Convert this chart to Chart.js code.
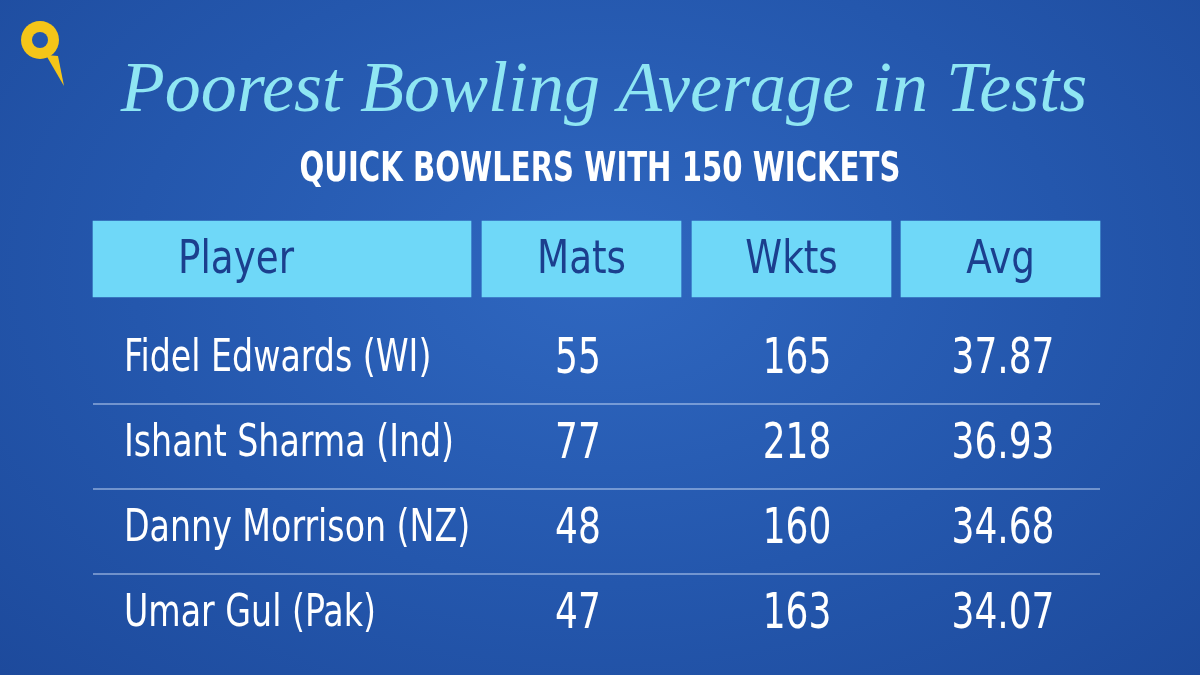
<!DOCTYPE html>
<html><head><meta charset="utf-8">
<script src="https://cdn.jsdelivr.net/npm/chart.js@4"></script>
<style>html,body{margin:0;padding:0;width:1200px;height:675px;overflow:hidden;
background:radial-gradient(ellipse at 50% 40%,#2f67c0 0%,#2457ad 55%,#1d4a9c 100%);}
#w{position:absolute;left:0;top:0;width:1200px;height:675px}</style></head><body>
<div id="w"><canvas id="c"></canvas></div>
<script>
const title = "Poorest Bowling Average in Tests";
const subtitle = "QUICK BOWLERS WITH 150 WICKETS";
const columns = ["Player","Mats","Wkts","Avg"];
const players = ["Fidel Edwards (WI)","Ishant Sharma (Ind)","Danny Morrison (NZ)","Umar Gul (Pak)"];
const mats = [55,77,48,47];
const wkts = [165,218,160,163];
const avgs = ["37.87","36.93","34.68","34.07"];

const colSpans = [[93,471],[482,681],[692,891],[901,1100]];
const headerTop = 221, headerBottom = 297;
const rowY0 = 360, rowStep = 85;
const COND = '"Liberation Sans Narrow","DejaVu Sans Condensed",sans-serif';

function txt(ctx,s,px,py,sx,align){
  ctx.save();ctx.translate(px,py);ctx.scale(sx,1);ctx.textAlign=align;ctx.fillText(s,0,0);ctx.restore();
}
const tablePlugin = {
  id:'table',
  beforeDatasetsDraw(chart){
    const ctx = chart.ctx;
    ctx.save();
    ctx.fillStyle='#f5c518';
    ctx.beginPath();ctx.arc(40,40,19,0,Math.PI*2);ctx.fill();
    ctx.beginPath();ctx.moveTo(46,55);ctx.lineTo(64,86);ctx.lineTo(58,56);ctx.fill();
    ctx.fillStyle='#2457ad';ctx.beginPath();ctx.arc(40,40,8,0,Math.PI*2);ctx.fill();
    ctx.restore();
  },
  afterDatasetsDraw(chart){
    const ctx=chart.ctx, x=chart.scales.x, y=chart.scales.y;
    ctx.save();
    ctx.textBaseline='middle';
    ctx.fillStyle='#8fe6f3';
    ctx.font='italic 72px "Liberation Serif", "DejaVu Serif", serif';
    txt(ctx,title,x.getPixelForValue(604),y.getPixelForValue(92),1,'center');
    ctx.fillStyle='#ffffff';
    ctx.font='bold 40px '+COND;
    txt(ctx,subtitle,x.getPixelForValue(600),y.getPixelForValue(171),0.81,'center');
    ctx.fillStyle='#1b3f8e';
    ctx.font='46px '+COND;
    columns.forEach((c,i)=>{
      const cx = i===0 ? 236 : (colSpans[i][0]+colSpans[i][1])/2;
      txt(ctx,c,x.getPixelForValue(cx),y.getPixelForValue(261),0.9,'center');
    });
    ctx.fillStyle='#ffffff';
    const numX=[578,797,1003];
    players.forEach((p,i)=>{
      const ry=y.getPixelForValue(rowY0+rowStep*i);
      ctx.font='44px '+COND;
      txt(ctx,p,x.getPixelForValue(124),ry,0.84,'left');
      ctx.font='50px '+COND;
      txt(ctx,String(mats[i]),x.getPixelForValue(numX[0]),ry,0.8,'center');
      txt(ctx,String(wkts[i]),x.getPixelForValue(numX[1]),ry,0.8,'center');
      txt(ctx,avgs[i],x.getPixelForValue(numX[2]),ry,0.8,'center');
      if(i<players.length-1){
        const ly=y.getPixelForValue(rowY0+rowStep*i+44);
        ctx.strokeStyle='rgba(220,235,255,0.85)';ctx.lineWidth=1.2;
        ctx.beginPath();ctx.moveTo(x.getPixelForValue(93),ly);ctx.lineTo(x.getPixelForValue(1100),ly);ctx.stroke();
      }
    });
    ctx.restore();
  }
};

new Chart(document.getElementById('c'),{
  type:'bar',
  data:{labels:['header'],
    datasets:[{data:colSpans.map((s)=>({x:s,y:(headerTop+headerBottom)/2})),
      backgroundColor:'#6fd8f8',borderWidth:0,barThickness:headerBottom-headerTop}]},
  options:{indexAxis:'y',responsive:true,maintainAspectRatio:false,animation:false,
    layout:{padding:0},
    plugins:{legend:{display:false},tooltip:{enabled:false}},
    scales:{
      x:{type:'linear',min:0,max:1200,display:false,offset:false},
      y:{type:'linear',min:0,max:675,reverse:true,display:false,offset:false}
    }},
  plugins:[tablePlugin]
});
</script></body></html>
